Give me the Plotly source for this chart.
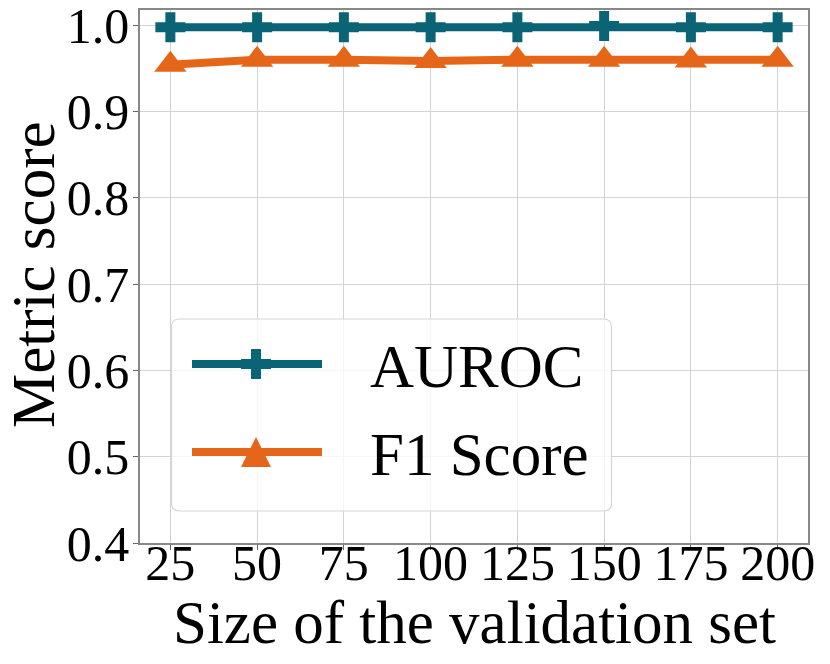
import plotly.graph_objects as go

# data
sizes = [25, 50, 75, 100, 125, 150, 175, 200]
auroc = [0.9975, 0.9975, 0.9975, 0.9975, 0.9975, 0.999, 0.9975, 0.9975]
f1_score = [0.954, 0.960, 0.960, 0.9585, 0.960, 0.960, 0.959, 0.960]
series_names = ["AUROC", "F1 Score"]
y_ticks = [0.4, 0.5, 0.6, 0.7, 0.8, 0.9, 1.0]
x_title = "Size of the validation set"
y_title = "Metric score"

TEAL = "#0b6475"
ORANGE = "#e56618"
FONT = "Liberation Serif, Times New Roman, serif"

# the page body has an 8px margin, so the figure is a bit smaller than the window
PAGE = 8
W, H = 830 - PAGE, 664 - PAGE
# plot area as seen in the window (pixels)
X0, X1, Y0, Y1 = 140, 808, 10, 543


def px(p):
    return (p - X0) / (X1 - X0)


def py(p):
    return (Y1 - p) / (Y1 - Y0)


fig = go.Figure()

fig.add_trace(go.Scatter(
    x=sizes, y=auroc, mode="lines+markers", name=series_names[0],
    line=dict(color=TEAL, width=8),
    marker=dict(symbol="cross", size=25, color=TEAL),
    cliponaxis=False,
))
fig.add_trace(go.Scatter(
    x=sizes, y=f1_score, mode="lines+markers", name=series_names[1],
    line=dict(color=ORANGE, width=8),
    marker=dict(symbol="triangle-up", size=28, color=ORANGE),
    cliponaxis=False,
))

# hand drawn legend so the long line samples match the matplotlib look
shapes = []
r = 8
w, h = 220, 96
box = (f"M{-w + r},{-h} L{w - r},{-h} Q{w},{-h} {w},{-h + r} L{w},{h - r} Q{w},{h} {w - r},{h} "
       f"L{-w + r},{h} Q{-w},{h} {-w},{h - r} L{-w},{-h + r} Q{-w},{-h} {-w + r},{-h} Z")
shapes.append(dict(type="path", xref="paper", yref="paper", xsizemode="pixel", ysizemode="pixel",
                   xanchor=px(391.5), yanchor=py(415), path=box,
                   fillcolor="rgba(255,255,255,0.8)", line=dict(color="#d6d6d6", width=1.2)))
rows = [(364, TEAL), (452, ORANGE)]
for yy, col in rows:
    shapes.append(dict(type="line", xref="paper", yref="paper", x0=px(192), x1=px(322),
                       y0=py(yy), y1=py(yy), line=dict(color=col, width=8)))
cross = "M-15,-5 H-5 V-15 H5 V-5 H15 V5 H5 V15 H-5 V5 H-15 Z"
tri = "M-15,-15 L15,-15 L0,15 Z"
shapes.append(dict(type="path", xref="paper", yref="paper", xsizemode="pixel", ysizemode="pixel",
                   xanchor=px(256), yanchor=py(364), path=cross, fillcolor=TEAL, line=dict(width=0)))
shapes.append(dict(type="path", xref="paper", yref="paper", xsizemode="pixel", ysizemode="pixel",
                   xanchor=px(256), yanchor=py(452), path=tri, fillcolor=ORANGE, line=dict(width=0)))

annotations = []
for (yy, col), name in zip(rows, series_names):
    annotations.append(dict(text=name, xref="paper", yref="paper", x=px(368), y=py(yy + 2),
                            xanchor="left", yanchor="middle", showarrow=False,
                            font=dict(family=FONT, size=61, color="black")))
# axis titles
annotations.append(dict(text=x_title, xref="paper", yref="paper", x=px(474), y=py(622),
                        xanchor="center", yanchor="middle", showarrow=False,
                        font=dict(family=FONT, size=61, color="black")))
annotations.append(dict(text=y_title, xref="paper", yref="paper", x=px(33), y=py(275),
                        xanchor="center", yanchor="middle", showarrow=False, textangle=-90,
                        font=dict(family=FONT, size=61, color="black")))

fig.update_layout(
    width=W, height=H,
    margin=dict(l=X0 - PAGE, r=830 - X1, t=Y0 - PAGE, b=664 - Y1),
    paper_bgcolor="white", plot_bgcolor="white",
    showlegend=False,
    font=dict(family=FONT, color="black"),
    shapes=shapes,
    annotations=annotations,
)
axis_style = dict(
    tickfont=dict(size=50), ticks="outside", ticklen=5, tickcolor="#666",
    showgrid=True, gridcolor="#d3d3d3", gridwidth=1,
    showline=True, linecolor="#888", linewidth=1.5, mirror=True, zeroline=False,
    automargin=False, ticklabeloverflow="allow",
)
fig.update_xaxes(range=[16.25, 208.75], tickvals=sizes, ticktext=[str(s) for s in sizes],
                 ticklabelstandoff=-30, **axis_style)
fig.update_yaxes(range=[0.4, 1.0175], tickvals=y_ticks, ticktext=[f"{v:.1f}" for v in y_ticks],
                 ticklabelstandoff=-6, **axis_style)

fig.write_html("out.html")
